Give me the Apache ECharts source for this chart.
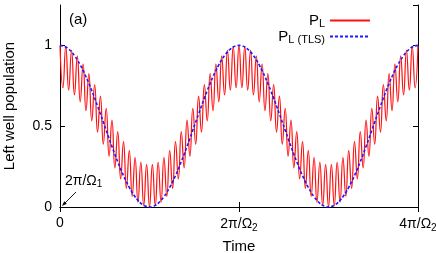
<!DOCTYPE html>
<html>
<head>
<meta charset="utf-8">
<script src="https://cdn.jsdelivr.net/npm/echarts@6/dist/echarts.min.js"></script>
<style>
html,body{margin:0;padding:0;background:#fff;}
#chart{width:436px;height:253px;}
</style>
</head>
<body>
<div id="chart"></div>
<script>
// P_L (exact, red): successive extremes, samples evenly spaced in time
const redValues = [
1.000, 0.738, 0.992, 0.723, 0.970, 0.694, 0.934, 0.651, 0.885, 0.596, 0.826, 0.533, 0.758, 0.463, 0.686, 0.389,
0.611, 0.314, 0.537, 0.242, 0.467, 0.174, 0.404, 0.115, 0.349, 0.066, 0.306, 0.030, 0.277, 0.008, 0.262, 0.000,
0.262, 0.008, 0.277, 0.030, 0.306, 0.066, 0.349, 0.115, 0.404, 0.174, 0.467, 0.242, 0.537, 0.314, 0.611, 0.389,
0.686, 0.463, 0.758, 0.533, 0.826, 0.596, 0.885, 0.651, 0.934, 0.694, 0.970, 0.723, 0.992, 0.738, 1.000,
0.738, 0.992, 0.723, 0.970, 0.694, 0.934, 0.651, 0.885, 0.596, 0.826, 0.533, 0.758, 0.463, 0.686, 0.389,
0.611, 0.314, 0.537, 0.242, 0.467, 0.174, 0.404, 0.115, 0.349, 0.066, 0.306, 0.030, 0.277, 0.008, 0.262, 0.000,
0.262, 0.008, 0.277, 0.030, 0.306, 0.066, 0.349, 0.115, 0.404, 0.174, 0.467, 0.242, 0.537, 0.314, 0.611, 0.389,
0.686, 0.463, 0.758, 0.533, 0.826, 0.596, 0.885, 0.651, 0.934, 0.694, 0.970, 0.723, 0.992, 0.738, 1.000
];
// P_L (TLS, blue dashed) at the same sample times
const blueValues = [
1.000, 0.997, 0.990, 0.977, 0.960, 0.937, 0.910, 0.879, 0.844, 0.806, 0.765, 0.720, 0.674, 0.625, 0.576, 0.525,
0.475, 0.424, 0.375, 0.326, 0.280, 0.235, 0.194, 0.156, 0.121, 0.090, 0.063, 0.041, 0.023, 0.010, 0.003, 0.000,
0.003, 0.010, 0.023, 0.041, 0.063, 0.090, 0.121, 0.156, 0.194, 0.235, 0.280, 0.326, 0.375, 0.424, 0.475, 0.525,
0.576, 0.625, 0.674, 0.720, 0.765, 0.806, 0.844, 0.879, 0.910, 0.937, 0.960, 0.977, 0.990, 0.997, 1.000,
0.997, 0.990, 0.977, 0.960, 0.937, 0.910, 0.879, 0.844, 0.806, 0.765, 0.720, 0.674, 0.625, 0.576, 0.525,
0.475, 0.424, 0.375, 0.326, 0.280, 0.235, 0.194, 0.156, 0.121, 0.090, 0.063, 0.041, 0.023, 0.010, 0.003, 0.000,
0.003, 0.010, 0.023, 0.041, 0.063, 0.090, 0.121, 0.156, 0.194, 0.235, 0.280, 0.326, 0.375, 0.424, 0.475, 0.525,
0.576, 0.625, 0.674, 0.720, 0.765, 0.806, 0.844, 0.879, 0.910, 0.937, 0.960, 0.977, 0.990, 0.997, 1.000
];
const timeSteps = redValues.map((_, i) => i);
const xTickLabels = ['0', '2π/Ω{s|2}', '4π/Ω{s|2}'];
const yTickLabels = ['0', '0.5', '1'];
const seriesNames = ['P_L', 'P_L_TLS'];

const FONT = 'Liberation Sans, Arial, Helvetica, sans-serif';
const subRich = {
  s: {fontSize: 10, fontFamily: FONT, color: '#000', padding: [7, 0, 0, 0]}
};
const legendRich = {
  b: {fontSize: 15, fontFamily: FONT, color: '#000'},
  l: {fontSize: 11, fontFamily: FONT, color: '#000', padding: [6, 0, 0, 0]}
};
const chart = echarts.init(document.getElementById('chart'), null, {renderer: 'canvas'});
const stepLabelIndex = i => (i % 62 === 0 ? i / 62 : -1);

chart.setOption({
  animation: false,
  backgroundColor: '#fff',
  grid: {left: 60, right: 18, top: 5, bottom: 46, containLabel: false, outerBoundsMode: 'none'},
  legend: [
    {
      data: [seriesNames[0]], right: 60, top: 8, itemWidth: 40, itemHeight: 14, align: 'right',
      itemStyle: {opacity: 0, borderWidth: 0},
      formatter: () => '{b|P}{l|L}',
      textStyle: {rich: legendRich}
    },
    {
      data: [seriesNames[1]], right: 60, top: 24, itemWidth: 40, itemHeight: 14, align: 'right',
      itemStyle: {opacity: 0, borderWidth: 0},
      formatter: () => '{b|P}{l|L (TLS)}',
      textStyle: {rich: legendRich}
    }
  ],
  xAxis: [
    {
      type: 'category', data: timeSteps, boundaryGap: false,
      name: 'Time', nameLocation: 'middle', nameGap: 32,
      nameTextStyle: {fontSize: 15, fontFamily: FONT, color: '#000'},
      axisLine: {lineStyle: {color: '#000', width: 1}},
      axisTick: {inside: true, length: 5, interval: 61, lineStyle: {color: '#000'}},
      axisLabel: {
        interval: 61, margin: 9, fontSize: 14, fontFamily: FONT, color: '#000',
        formatter: (v, i) => { const k = stepLabelIndex(Number(v)); return k >= 0 ? xTickLabels[k] : ''; },
        rich: subRich
      },
      splitLine: {show: false}
    },
    {
      type: 'category', data: timeSteps, boundaryGap: false, position: 'top',
      axisLine: {lineStyle: {color: '#000', width: 1}},
      axisTick: {inside: true, length: 5, interval: 61, lineStyle: {color: '#000'}},
      axisLabel: {show: false}, splitLine: {show: false}
    }
  ],
  yAxis: [
    {
      type: 'value', min: 0, max: 1.25, interval: 0.5,
      name: 'Left well population', nameLocation: 'middle', nameGap: 43, nameRotate: 90,
      nameTextStyle: {fontSize: 15, fontFamily: FONT, color: '#000'},
      axisLine: {show: true, lineStyle: {color: '#000', width: 1}},
      axisTick: {show: true, inside: true, length: 5, lineStyle: {color: '#000'}},
      axisLabel: {
        margin: 8, fontSize: 14, fontFamily: FONT, color: '#000', showMaxLabel: false,
        formatter: v => { const k = Math.round(v / 0.5); return Math.abs(v - k * 0.5) < 1e-6 && k < yTickLabels.length ? yTickLabels[k] : ''; }
      },
      splitLine: {show: false}
    },
    {
      type: 'value', min: 0, max: 1.25, interval: 0.5, position: 'right',
      axisLine: {show: true, lineStyle: {color: '#000', width: 1}},
      axisTick: {show: true, inside: true, length: 5, lineStyle: {color: '#000'}},
      axisLabel: {show: false}, splitLine: {show: false}
    }
  ],
  series: [
    {
      name: seriesNames[0], type: 'line', data: redValues, smooth: 0.5,
      showSymbol: false, symbol: 'none',
      lineStyle: {color: '#ff1010', width: 1.2},
      itemStyle: {color: '#ff1010'}
    },
    {
      name: seriesNames[1], type: 'line', data: blueValues, smooth: true,
      showSymbol: false, symbol: 'none',
      lineStyle: {color: '#1a1aff', width: 1.6, type: [3, 2]},
      itemStyle: {color: '#1a1aff'}
    }
  ],
  graphic: [
    {type: 'text', left: 69, top: 12, style: {text: '(a)', fontSize: 15, fontFamily: FONT, fill: '#000'}},
    {type: 'text', left: 65, top: 174, style: {text: '2π/Ω{s|1}', fontSize: 14, fontFamily: FONT, fill: '#000',
      rich: {s: {fontSize: 10, fontFamily: FONT, fill: '#000', padding: [7, 0, 0, 0]}}}},
    {type: 'line', shape: {x1: 76, y1: 192, x2: 64, y2: 204}, style: {stroke: '#000', lineWidth: 0.9}},
    {type: 'polygon', shape: {points: [[62, 206], [66.8, 203.8], [64.2, 201.2]]}, style: {fill: '#000'}}
  ]
});
</script>
</body>
</html>
